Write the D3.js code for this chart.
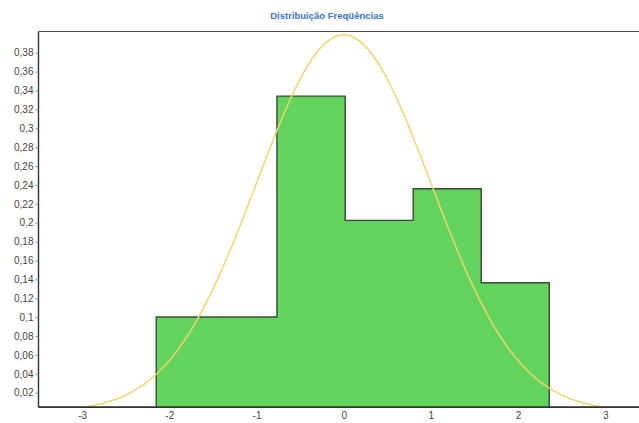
<!DOCTYPE html>
<html><head><meta charset="utf-8">
<script src="https://cdn.jsdelivr.net/npm/d3@7"></script>
<style>body{margin:0;background:#fff}svg{display:block}</style>
</head><body>
<svg id="c" width="639" height="423"></svg>
<script>
const title = "Distribuição Freqüências";
const binStarts = [-2.15, -0.766, 0.017, 0.797, 1.577];
const binEnds   = [-0.766, 0.017, 0.797, 1.577, 2.357];
const binValues = [0.1002, 0.334, 0.2025, 0.236, 0.1365];
const yTicks = [0.02,0.04,0.06,0.08,0.1,0.12,0.14,0.16,0.18,0.2,0.22,0.24,0.26,0.28,0.3,0.32,0.34,0.36,0.38];
const xTicks = [-3,-2,-1,0,1,2,3];

(function(){
const svg = d3.select("#c");
const x = d3.scaleLinear().domain([-3.5, 3.5]).range([38.5, 38.5 + 7*87.2]);
const y = d3.scaleLinear().domain([0, 0.38]).range([411.6, 411.6 - 0.38*944.4]);
const yTop = 0.4025, yBot = 0.0047;
const pLeft = x(-3.5), pTop = y(yTop), pBottom = y(yBot);

svg.append("text").attr("x", 327).attr("y", 19).attr("text-anchor","middle")
  .attr("font-family","Liberation Sans, Arial, sans-serif").attr("font-size", 9.5).attr("font-weight","bold")
  .attr("fill","#3d72c8").text(title);

svg.append("clipPath").attr("id","pc").append("rect")
  .attr("x", pLeft).attr("y", pTop).attr("width", 700).attr("height", pBottom-pTop);

const g = svg.append("g").attr("clip-path","url(#pc)");
const bins = binValues.map((v,i)=>({x0:binStarts[i], x1:binEnds[i], v}));
g.selectAll("rect.bar").data(bins).join("rect").attr("class","bar")
  .attr("x", d=>x(d.x0)).attr("width", d=>x(d.x1)-x(d.x0)+1)
  .attr("y", d=>y(d.v)).attr("height", d=>pBottom - y(d.v))
  .attr("fill","#62d35c").attr("shape-rendering","crispEdges");

// step outline of the histogram
const outline = [[bins[0].x0, yBot]];
bins.forEach(b => { outline.push([b.x0, b.v]); outline.push([b.x1, b.v]); });
outline.push([bins[bins.length-1].x1, yBot]);
g.append("path").datum(outline)
  .attr("d", d3.line().x(d=>x(d[0])).y(d=>y(d[1])))
  .attr("fill","none").attr("stroke","#3a4a3a").attr("stroke-width",1.4);

const pdf = t => Math.exp(-t*t/2)/Math.sqrt(2*Math.PI);
const pts = d3.range(-3, 3.0001, 0.02).map(t=>[t, pdf(t)]);
g.append("path").datum(pts)
  .attr("d", d3.line().x(d=>x(d[0])).y(d=>y(d[1])).curve(d3.curveBasis))
  .attr("fill","none").attr("stroke","#f0d468").attr("stroke-width",1.5);

svg.append("line").attr("x1",pLeft).attr("x2",639).attr("y1",pTop).attr("y2",pTop).attr("stroke","#444").attr("stroke-width",1.2);
svg.append("line").attr("x1",pLeft).attr("x2",639).attr("y1",pBottom).attr("y2",pBottom).attr("stroke","#333").attr("stroke-width",1.6);
svg.append("line").attr("x1",pLeft).attr("x2",pLeft).attr("y1",pTop).attr("y2",pBottom).attr("stroke","#333").attr("stroke-width",1.4);

const font = "Liberation Sans, Arial, sans-serif";
const fmt = v => String(+v.toFixed(2)).replace(".", ",");
const yAxis = svg.append("g").attr("transform",`translate(${pLeft},0)`)
  .call(d3.axisLeft(y).tickValues(yTicks).tickFormat(fmt).tickSize(3).tickPadding(2));
yAxis.select(".domain").remove();
yAxis.selectAll("text").attr("font-family",font).attr("font-size",10).attr("fill","#444");
yAxis.selectAll("line").attr("stroke","#888");

const xAxis = svg.append("g").attr("transform",`translate(0,${pBottom})`)
  .call(d3.axisBottom(x).tickValues(xTicks).tickFormat(d=>String(d)).tickSize(0).tickPadding(5));
xAxis.select(".domain").remove();
xAxis.selectAll("text").attr("font-family",font).attr("font-size",10).attr("fill","#444");
})();
</script>
</body></html>
